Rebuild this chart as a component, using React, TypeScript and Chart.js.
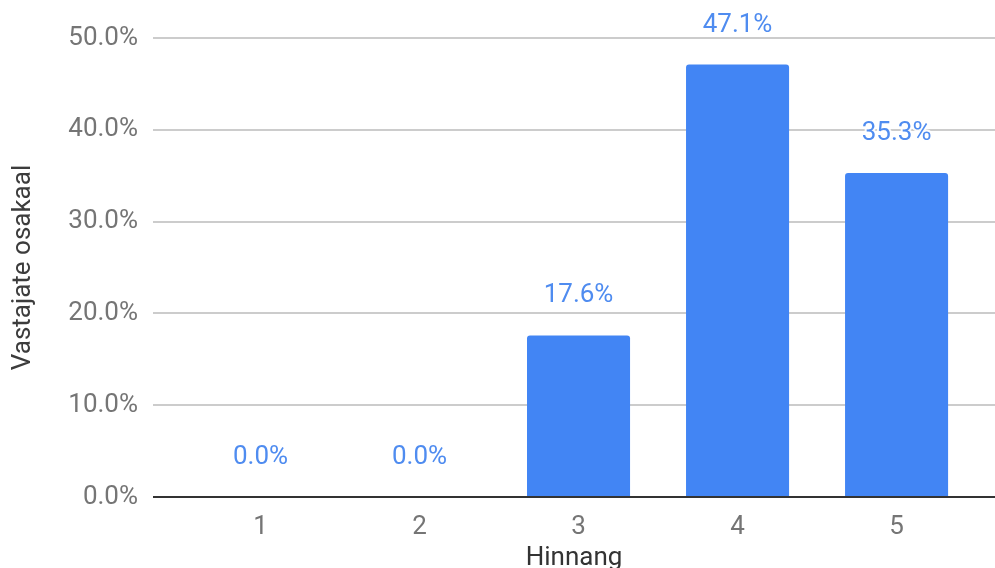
import React, { useEffect, useRef } from "react";
import { Chart, registerables } from "chart.js";

Chart.register(...registerables);

const categories = ["1", "2", "3", "4", "5"];
const shares = [0.0, 0.0, 17.6, 47.1, 35.3];
const yTicks = [0, 10, 20, 30, 40, 50];
const xTitle = "Hinnang";
const yTitle = "Vastajate osakaal";

const FONT = "Roboto";
const BLUE = "#4285f4";

const labelPlugin = {
  id: "barLabels",
  afterDatasetsDraw(chart: any) {
    const { ctx, chartArea, scales } = chart;
    // zero baseline
    const y0 = scales.y.getPixelForValue(0);
    ctx.save();
    ctx.strokeStyle = "#333333";
    ctx.lineWidth = 2;
    ctx.beginPath();
    ctx.moveTo(chartArea.left, y0);
    ctx.lineTo(chartArea.right, y0);
    ctx.stroke();
    const meta = chart.getDatasetMeta(0);
    ctx.font = `26px ${FONT}`;
    ctx.textAlign = "center";
    ctx.textBaseline = "middle";
    meta.data.forEach((bar: any, i: number) => {
      const txt = shares[i].toFixed(1) + "%";
      const yy = bar.y - 39.5;
      ctx.lineWidth = 4;
      ctx.strokeStyle = "rgba(255,255,255,0.9)";
      ctx.strokeText(txt, bar.x, yy);
      ctx.fillStyle = "#4f8cf0";
      ctx.fillText(txt, bar.x, yy);
    });
    ctx.restore();
  },
};

export default function App() {
  const ref = useRef<HTMLCanvasElement | null>(null);

  useEffect(() => {
    if (!ref.current) return;
    const chart = new Chart(ref.current, {
      type: "bar",
      data: {
        datasets: [
          {
            data: categories.map((c, i) => ({ x: i + 1, y: shares[i] })) as any,
            backgroundColor: BLUE,
            borderRadius: 3,
            borderSkipped: "start",
            barPercentage: 0.648,
            categoryPercentage: 1,
          },
        ],
      },
      options: {
        animation: false,
        responsive: true,
        maintainAspectRatio: false,
        layout: { padding: { top: 38, left: 0, right: 0, bottom: 0 } },
        plugins: {
          legend: { display: false },
          tooltip: { enabled: false },
        },
        scales: {
          x: {
            type: "linear",
            offset: false,
            bounds: "ticks",
            min: 0.324,
            max: 5.619,
            afterFit: (s: any) => {
              s.height = 71;
            },
            grid: { display: false },
            border: { display: false },
            ticks: {
              stepSize: 1,
              includeBounds: false,
              padding: 7,
              color: "#757575",
              font: { family: FONT, size: 26 },
              callback: (v: any) => {
                const idx = Math.round(Number(v)) - 1;
                return Number.isInteger(Number(v)) && categories[idx] !== undefined ? categories[idx] : "";
              },
            },
            title: {
              display: true,
              text: xTitle,
              color: "#333333",
              font: { family: FONT, size: 26, lineHeight: 0.7 },
              padding: 0,
            },
          },
          y: {
            min: 0,
            max: 50,
            afterFit: (s: any) => {
              s.width = 153;
            },
            afterBuildTicks: (s: any) => {
              s.ticks = yTicks.map((v) => ({ value: v }));
            },
            grid: {
              color: "#cccccc",
              lineWidth: 2,
              drawTicks: false,
            },
            border: { display: false },
            ticks: {
              padding: 15,
              color: "#757575",
              font: { family: FONT, size: 26 },
              callback: (v: any) => Number(v).toFixed(1) + "%",
            },
            title: {
              display: true,
              text: yTitle,
              color: "#3c3c3c",
              font: { family: FONT, size: 26 },
              padding: { top: 8, bottom: 0 },
            },
          },
        },
      },
      plugins: [labelPlugin],
    });
    return () => chart.destroy();
  }, []);

  return (
    <div style={{ position: "fixed", left: 0, top: 0, width: 995, height: 568, background: "#fff" }}>
      <canvas ref={ref} />
    </div>
  );
}
